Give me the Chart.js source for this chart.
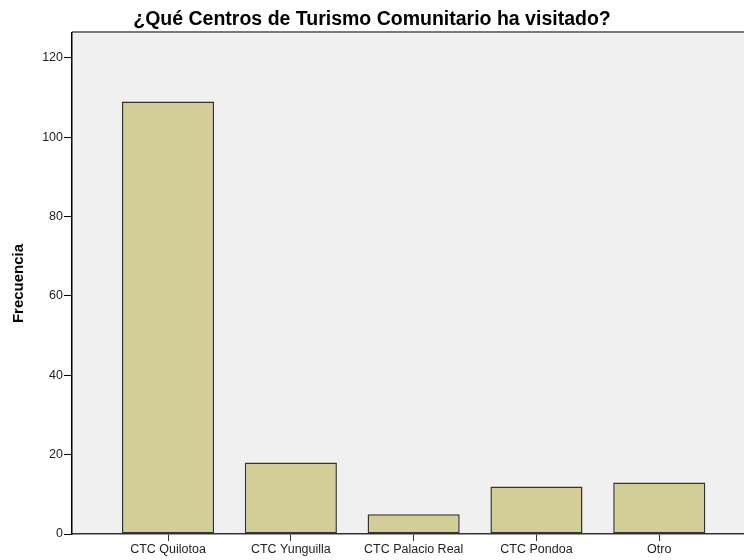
<!DOCTYPE html>
<html>
<head>
<meta charset="utf-8">
<title>Centros de Turismo Comunitario</title>
<script src="https://cdn.jsdelivr.net/npm/chart.js@4/dist/chart.umd.min.js"></script>
<style>
    body { margin: 0; background: #fff; overflow: hidden; }
</style>
</head>
<body>
<canvas id="freqChart" width="744" height="560"></canvas>
<script>
var categories = ['CTC Quilotoa', 'CTC Yunguilla', 'CTC Palacio Real', 'CTC Pondoa', 'Otro'];
var frequencies = [109, 18, 5, 12, 13];
var yTicks = [0, 20, 40, 60, 80, 100, 120];

var fontFamily = '"Liberation Sans", Arial, sans-serif';

// plot area background and top border like the SPSS output
var plotBackground = {
    id: 'plotBackground',
    beforeDraw: function(chart) {
        var ctx = chart.ctx;
        var area = chart.chartArea;
        ctx.save();
        ctx.fillStyle = '#f0f0f0';
        ctx.fillRect(area.left, area.top, area.right - area.left, area.bottom - area.top);
        ctx.strokeStyle = '#7a7a7a';
        ctx.lineWidth = 2;
        ctx.beginPath();
        ctx.moveTo(area.left, area.top - 1);
        ctx.lineTo(area.right, area.top - 1);
        ctx.stroke();
        ctx.restore();
    }
};

var points = categories.map(function(name, i) {
    return { x: i, y: frequencies[i] };
});

var chart = new Chart(document.getElementById('freqChart'), {
    type: 'bar',
    data: {
        datasets: [{
            data: points,
            backgroundColor: '#d3ce97',
            borderColor: '#333333',
            borderWidth: 1.5,
            borderSkipped: false,
            barPercentage: 0.75,
            categoryPercentage: 1
        }]
    },
    options: {
        responsive: false,
        devicePixelRatio: 1,
        animation: false,
        layout: { padding: 0 },
        plugins: {
            legend: { display: false },
            tooltip: { enabled: false },
            title: {
                display: true,
                text: '¿Qué Centros de Turismo Comunitario ha visitado?',
                color: '#000',
                font: { family: fontFamily, size: 19.5, weight: 'bold' },
                padding: { top: 8, bottom: 1.6 }
            }
        },
        scales: {
            x: {
                type: 'linear',
                offset: false,
                min: -0.782,
                max: 4.69,
                afterFit: function(scale) { scale.height = 26; },
                afterBuildTicks: function(scale) {
                    scale.ticks = categories.map(function(c, i) { return { value: i }; });
                },
                ticks: {
                    autoSkip: false,
                    maxRotation: 0,
                    padding: 1.5,
                    color: '#222',
                    font: { family: fontFamily, size: 12.5 },
                    callback: function(value) { return categories[value]; }
                },
                grid: { offset: false, drawOnChartArea: false, drawTicks: true, tickLength: 7, tickColor: '#333' },
                border: { display: true, color: '#333', width: 1.5 }
            },
            y: {
                min: 0,
                max: 126.3,
                afterFit: function(scale) { scale.width = 72; },
                afterBuildTicks: function(scale) {
                    scale.ticks = yTicks.map(function(v) { return { value: v }; });
                },
                ticks: {
                    padding: 1,
                    color: '#222',
                    font: { family: fontFamily, size: 12.5 }
                },
                grid: { drawOnChartArea: false, drawTicks: true, tickLength: 8, tickColor: '#000' },
                border: { display: true, color: '#000', width: 1.5 },
                title: {
                    display: true,
                    text: 'Frecuencia',
                    color: '#000',
                    font: { family: fontFamily, size: 15, weight: 'bold' },
                    padding: { top: 10, bottom: 0 }
                }
            }
        }
    },
    plugins: [plotBackground]
});
</script>
</body>
</html>
